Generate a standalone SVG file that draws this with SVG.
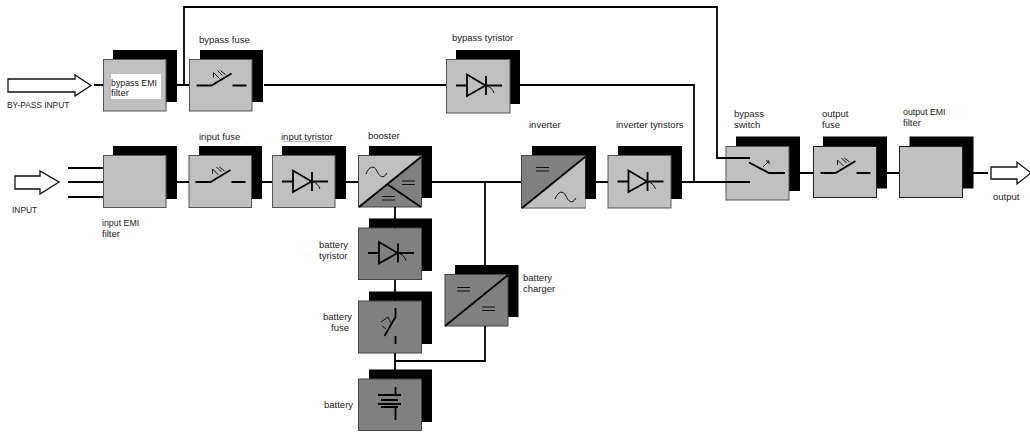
<svg xmlns="http://www.w3.org/2000/svg" xmlns:xlink="http://www.w3.org/1999/xlink" width="1030" height="432" viewBox="0 0 1030 432">
<style>
text{font-family:"Liberation Sans",Arial,sans-serif;font-size:9.5px;fill:#222}
.sm{font-size:8.8px}
.sh{fill:#000}
.l{fill:#c0c0c0;stroke:#555;stroke-width:1}
.d{fill:#808080;stroke:#444;stroke-width:1}
.w{fill:none;stroke:#000;stroke-width:1.800}
.t{fill:none;stroke:#111;stroke-width:1}
.ar{fill:#fff;stroke:#111;stroke-width:1.300}
</style>
<defs>
<g id="fuse"><path class="w" d="M7 27H22L42 15M43 27H57"/><path class="t" d="M24 19L24 14M24 14L30 20M28 12L33 17M31 12L36 16"/></g>
<g id="diode"><path class="w" d="M9.500 25.500H20.500M20.500 14.500V36L39 25.500ZM39 25.500H55.500M39.500 16V35"/><path class="t" d="M39.500 25.500C44 27 46 29 47.500 33"/></g>
<path id="sine" class="t" d="M0 7C3 -1 8 -2 11 4C13 9 17 13 21 6"/>
<path id="eq" class="t" d="M0 0H13M0 3.500H13"/>
</defs>
<g id="bypass-input"><path class="ar" d="M8 79H75V75L91 85.500L75 96V92H8Z"/><text class="sm" x="7" y="108" style="font-size:8.400px">BY-PASS INPUT</text></g>
<g id="input"><path class="ar" d="M15 176H40V171L59 182L40 194V189H15Z"/><text x="12" y="213" style="font-size:8.400px">INPUT</text></g>
<g id="output"><path class="ar" d="M991 167H1017V162L1031 173L1017 184V179H991Z"/><text x="993" y="200">output</text></g>
<g id="bypass-emi-filter"><rect class="sh" x="113" y="50" width="64" height="52"/><rect class="l" x="103.500" y="59.500" width="62.500" height="51.500"/><rect x="111" y="74" width="50" height="25" fill="#fff"/><text class="sm" x="111" y="86">bypass EMI</text><text x="111" y="96">filter</text></g>
<g id="bypass-fuse"><rect class="sh" x="200" y="50" width="63" height="52"/><rect class="l" x="189.500" y="59.500" width="62.500" height="51.500"/><use xlink:href="#fuse" x="189.500" y="58.500"/><text x="199" y="43">bypass fuse</text></g>
<g id="bypass-tyristor"><rect class="sh" x="456" y="50" width="64" height="54"/><rect class="l" x="446.500" y="59.500" width="63.500" height="53.500"/><use xlink:href="#diode" x="446.500" y="60"/><text x="452" y="41">bypass tyristor</text></g>
<g id="input-emi-filter"><rect class="sh" x="113" y="146" width="64" height="53"/><rect class="l" x="103.500" y="155.500" width="62.500" height="52"/><text class="sm" x="102" y="226">input EMI</text><text x="102" y="237">filter</text></g>
<g id="input-fuse"><rect class="sh" x="199" y="146" width="63" height="53"/><rect class="l" x="189" y="155.500" width="62.500" height="52"/><use xlink:href="#fuse" x="188.500" y="155"/><text x="199" y="140">input fuse</text></g>
<g id="input-tyristor"><rect class="sh" x="282" y="146" width="64" height="53"/><rect class="l" x="272.500" y="155.500" width="62.500" height="52"/><use xlink:href="#diode" x="272.500" y="156"/><text x="281" y="140">input tyristor</text><path d="M282 141.500H330" stroke="#bbb" fill="none"/></g>
<g id="booster"><rect class="sh" x="369" y="146" width="63" height="52"/><rect class="d" x="358.500" y="155.500" width="63" height="51.500"/><path fill="#c0c0c0" d="M359 156H421L359 206Z"/><path class="w" d="M359 207L421 157M387 184L421 207"/><use xlink:href="#sine" x="366" y="167"/><use xlink:href="#eq" x="402" y="181"/><use xlink:href="#eq" x="382" y="196.500"/><text x="368" y="139">booster</text></g>
<g id="inverter"><rect class="sh" x="532" y="146" width="64" height="53"/><rect class="d" x="521.500" y="155.500" width="63.500" height="52.500"/><path fill="#c0c0c0" d="M585 157V207.500H522Z"/><path class="w" d="M522 208L585 157"/><use xlink:href="#eq" x="536" y="167.500"/><use xlink:href="#sine" x="555" y="192"/><text x="529" y="128">inverter</text></g>
<g id="inverter-tyristors"><rect class="sh" x="618" y="146" width="64" height="53"/><rect class="l" x="608" y="155.500" width="63" height="52.500"/><use xlink:href="#diode" x="608" y="156"/><text x="616" y="128">inverter tyristors</text></g>
<g id="battery-tyristor"><rect class="sh" x="369" y="218.500" width="63" height="52.500"/><rect class="d" x="358.500" y="228" width="63" height="51.500"/><use xlink:href="#diode" x="358.500" y="227.500"/><text x="319" y="248">battery</text><text x="319" y="259">tyristor</text></g>
<g id="battery-fuse"><rect class="sh" x="369" y="291.500" width="63" height="52.500"/><rect class="d" x="358.500" y="301" width="63" height="52"/><path class="w" d="M395.500 308V317L384.500 336M395.500 336V344"/><path class="t" d="M388 317L381 322M388 317L391 323M382 326L386 329"/><text x="323" y="320">battery</text><text x="331" y="331">fuse</text></g>
<g id="battery"><rect class="sh" x="369" y="369.500" width="63" height="52.500"/><rect class="d" x="358.500" y="379" width="63" height="51.500"/><path class="w" d="M395.500 387V395M378 395H401M395.500 407V420M378 404H401"/><path d="M381 400H398M381 407H398" stroke="#000" stroke-width="2" fill="none"/><text x="324" y="408">battery</text></g>
<g id="battery-charger"><rect class="sh" x="455" y="265" width="63.500" height="52"/><rect class="d" x="445" y="274.500" width="63" height="51.500"/><path class="w" d="M445 326L508 275"/><use xlink:href="#eq" x="457" y="287.500"/><use xlink:href="#eq" x="482" y="307"/><text x="523" y="281">battery</text><text x="523" y="292">charger</text></g>
<g id="bypass-switch"><rect class="sh" x="736" y="136.500" width="64" height="54.500"/><rect class="l" x="726" y="146.500" width="63" height="53.500"/><path class="w" d="M749 162.500L769 173H785"/><path class="t" d="M763 167L769 161M766 161H769V164"/><text x="734" y="117">bypass</text><text x="734" y="128">switch</text></g>
<g id="output-fuse"><rect class="sh" x="823" y="136.500" width="64" height="52"/><rect x="813.500" y="146.500" width="63" height="51" fill="#c0c0c0" stroke="#222"/><use xlink:href="#fuse" x="813.500" y="146"/><text x="822" y="117">output</text><text x="822" y="128">fuse</text></g>
<g id="output-emi-filter"><rect class="sh" x="909.500" y="136.500" width="64" height="52"/><rect x="899.500" y="146.500" width="63" height="51" fill="#c0c0c0" stroke="#222"/><text class="sm" x="903" y="115">output EMI</text><text x="903" y="126">filter</text></g>
<g id="connectors">
<path class="w" d="M94 85H103M177 85H189M264 85H446M520 85H694V182M184 85V7H717V158H750M682 182H750"/>
<path class="w" d="M68 168H103M68 182H103M68 197H103M177 182H189M262 182H272M346 182H358M432 182H521M596 182H608M485 182V265M395 207V228M395 280V301M395 353V379M395 361H485V326M800 173H813M887 173H899M973 173H988"/>
</g>
</svg>
